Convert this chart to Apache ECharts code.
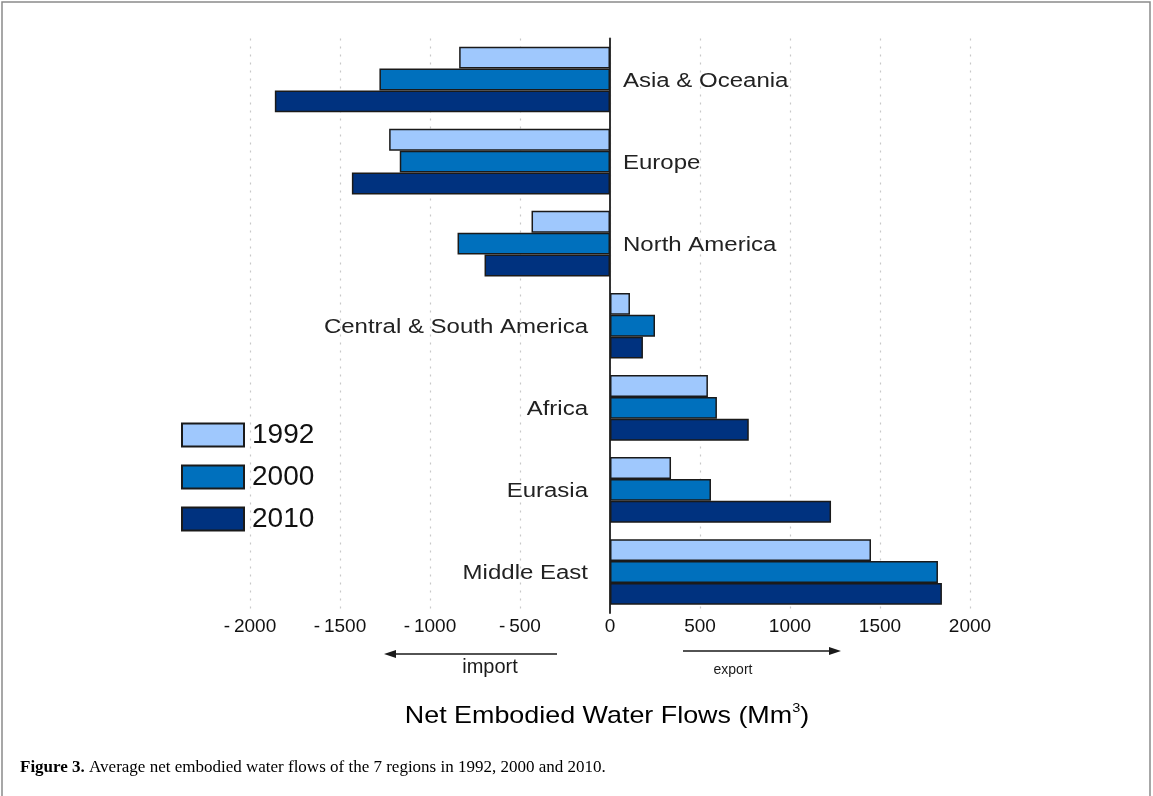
<!DOCTYPE html>
<html>
<head>
<meta charset="utf-8">
<script src="https://cdn.jsdelivr.net/npm/echarts@6/dist/echarts.min.js"></script>
<style>html,body{margin:0;padding:0;background:#fff;}#c{width:1153px;height:796px;}</style>
</head>
<body>
<div id="c"></div>
<script>
const categories = ['Asia & Oceania','Europe','North America','Central & South America','Africa','Eurasia','Middle East'];
const years = ['1992','2000','2010'];
const v1992 = [-838, -1227, -436, 111, 544, 339, 1450];
const v2000 = [-1281, -1168, -847, 250, 594, 561, 1822];
const v2010 = [-1862, -1434, -697, 183, 771, 1228, 1844];
const xTicks = [-2000, -1500, -1000, -500, 0, 500, 1000, 1500, 2000];

const colors = ['#9fc8fd', '#0070bd', '#00327f'];
const values = [v1992, v2000, v2010];
const font = 'Liberation Sans, Arial, sans-serif';

const chart = echarts.init(document.getElementById('c'));
const barSeries = years.map((y, i) => ({
  name: y, type: 'bar', data: values[i],
  barGap: '0%', barCategoryGap: '20%',
  itemStyle: { color: colors[i], borderColor: '#1a1a1a', borderWidth: 1.5 },
  z: 2
}));

const staticGraphics = [
  { type: 'rect', shape: { x: 2, y: 2, width: 1148, height: 820 }, style: { fill: 'none', stroke: '#8a8a8a', lineWidth: 1.5 } },
  { type: 'line', shape: { x1: 557, y1: 654, x2: 392, y2: 654 }, style: { stroke: '#1a1a1a', lineWidth: 1.5 } },
  { type: 'polygon', shape: { points: [[384, 654], [396, 650], [396, 658]] }, style: { fill: '#1a1a1a' } },
  { type: 'line', shape: { x1: 683, y1: 651, x2: 832, y2: 651 }, style: { stroke: '#1a1a1a', lineWidth: 1.5 } },
  { type: 'polygon', shape: { points: [[841, 651], [829, 647], [829, 655]] }, style: { fill: '#1a1a1a' } },
  { type: 'text', x: 490, y: 667, style: { text: 'import', font: '20px ' + font, fill: '#1a1a1a', align: 'center', verticalAlign: 'middle' } },
  { type: 'text', x: 733, y: 670, style: { text: 'export', font: '14px ' + font, fill: '#1a1a1a', align: 'center', verticalAlign: 'middle' } },
  { type: 'text', x: 607, y: 716, scaleX: 1.12, style: {
      text: '{a|Net Embodied Water Flows (Mm}{s|3}{a|)}',
      align: 'center', verticalAlign: 'middle',
      rich: {
        a: { fontSize: 24, fontFamily: font, color: '#111' },
        s: { fontSize: 13, fontFamily: font, color: '#111', padding: [0, 0, 16, 0] }
      } } },
  { type: 'text', x: 20, y: 768, style: {
      text: '{b|Figure 3.}{n| Average net embodied water flows of the 7 regions in 1992, 2000 and 2010.}',
      verticalAlign: 'middle',
      rich: {
        b: { fontSize: 17, fontWeight: 'bold', fontFamily: 'Liberation Serif, Times New Roman, serif', color: '#1a1a1a' },
        n: { fontSize: 17, fontFamily: 'Liberation Serif, Times New Roman, serif', color: '#1a1a1a' }
      } } }
];

chart.setOption({
  animation: false,
  grid: { left: 250, width: 720, top: 38.5, height: 574.5, containLabel: false },
  legend: {
    data: years, orient: 'vertical', left: 176, top: 416, icon: 'rect',
    itemWidth: 62, itemHeight: 23, itemGap: 14,
    textStyle: { fontSize: 28, fontFamily: font, color: '#111', padding: [0,0,0,3] },
    selectedMode: false
  },
  xAxis: {
    type: 'value', min: -2000, max: 2000, interval: 500,
    axisLine: { show: false }, axisTick: { show: false },
    axisLabel: { fontSize: 19, fontFamily: font, color: '#111', margin: 4,
      formatter: v => xTicks.includes(v) ? (v < 0 ? '-\u2009' + Math.abs(v) : String(v)) : '' },
    splitLine: { show: true, lineStyle: { type: [2, 6], color: '#c8c8c8', width: 1.2 } }
  },
  yAxis: {
    type: 'category', data: categories, inverse: true,
    axisLine: { show: true, onZero: true, lineStyle: { color: '#333', width: 2 } },
    axisTick: { show: false }, axisLabel: { show: false }, splitLine: { show: false }
  },
  series: barSeries,
  graphic: staticGraphics
});

// Category labels placed at the zero line via the chart's own scales
const catLabels = categories.map((c, i) => {
  const p = chart.convertToPixel({ gridIndex: 0 }, [0, c]);
  const neg = v1992[i] < 0;
  return {
    type: 'text', x: neg ? p[0] + 13 : p[0] - 22, y: p[1] + 2, scaleX: 1.2, z: 10,
    style: { text: c, font: '20px ' + font, fill: '#222',
      align: neg ? 'left' : 'right', verticalAlign: 'middle' }
  };
});
chart.setOption({ graphic: staticGraphics.concat(catLabels) });
</script>
</body>
</html>
